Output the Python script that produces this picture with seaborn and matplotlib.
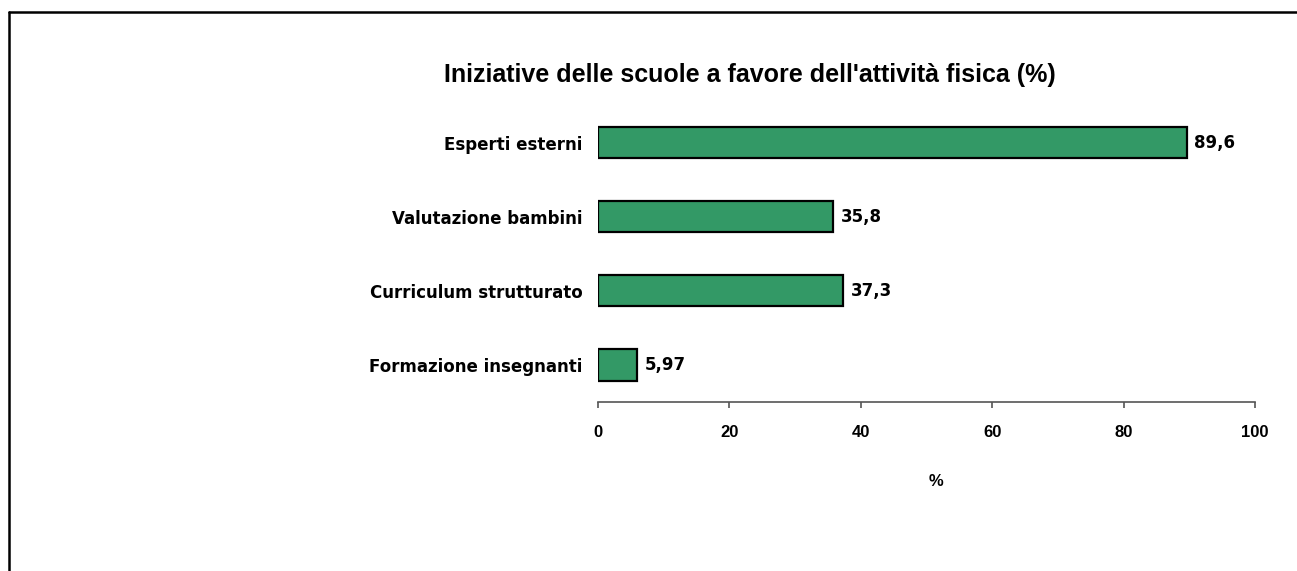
import matplotlib
matplotlib.use("Agg")
import matplotlib.pyplot as plt
import seaborn as sns
import pandas as pd
from matplotlib.lines import Line2D

categories = ["Esperti esterni", "Valutazione bambini", "Curriculum strutturato", "Formazione insegnanti"]
values = [89.6, 35.8, 37.3, 5.97]
value_labels = ["89,6", "35,8", "37,3", "5,97"]
x_ticks = [0, 20, 40, 60, 80, 100]
title = "Iniziative delle scuole a favore dell'attività fisica (%)"
x_label = "%"

sns.set_theme(style="white")
plt.rcParams['font.family'] = ['Liberation Sans', 'DejaVu Sans']
plt.rcParams['font.weight'] = 'bold'

W, H = 1297, 571
fig = plt.figure(figsize=(W / 100, H / 100), dpi=100)
ax = fig.add_axes([598 / W, 1 - 402 / H, (1255 - 598) / W, (402 - 105.5) / H])

df = pd.DataFrame({"cat": categories, "val": values})
sns.barplot(data=df, y="cat", x="val", orient="h", color="#339966", saturation=1,
            edgecolor="black", linewidth=1.6, width=0.42, ax=ax)

ax.set_xlim(0, 100)
ax.set_ylim(3.5, -0.5)
ax.set_xticks(x_ticks)
ax.set_xticklabels([str(t) for t in x_ticks], fontsize=12, fontweight="bold",
                   family=["Liberation Sans", "DejaVu Sans"])
ax.set_yticks(range(len(categories)))
ax.set_yticklabels(categories, fontsize=12, fontweight="bold", family=["DejaVu Sans"])
ax.set_xlabel("")
ax.set_ylabel("")
for s in ["left", "right", "top"]:
    ax.spines[s].set_visible(False)
ax.spines["bottom"].set_color("#555555")
ax.spines["bottom"].set_linewidth(1.2)
ax.tick_params(axis="x", bottom=True, direction="out", length=4.3, width=1.2, color="#555555", pad=12, labelcolor="black")
ax.tick_params(axis="y", left=False, length=0, pad=11, labelcolor="black")

for i, (v, lab) in enumerate(zip(values, value_labels)):
    ax.annotate(lab, xy=(v, i), xytext=(5.5, 0), textcoords="offset points",
                ha="left", va="center", fontsize=12, fontweight="bold", color="black",
                family=["DejaVu Sans"])

fig.text(749.5 / W, 1 - 75 / H, title, ha="center", va="center", fontsize=18, fontweight="bold", color="black")
fig.text(936 / W, 1 - 482 / H, x_label, ha="center", va="center", fontsize=12, fontweight="bold", color="black")

# partial frame
fig.add_artist(Line2D([8.5 / W, 8.5 / W], [0, 1 - 11.5 / H], transform=fig.transFigure, color="black", linewidth=1.8))
fig.add_artist(Line2D([8.5 / W, 1], [1 - 11.5 / H, 1 - 11.5 / H], transform=fig.transFigure, color="black", linewidth=1.8))

fig.savefig("out.png", dpi=100, facecolor="white")
